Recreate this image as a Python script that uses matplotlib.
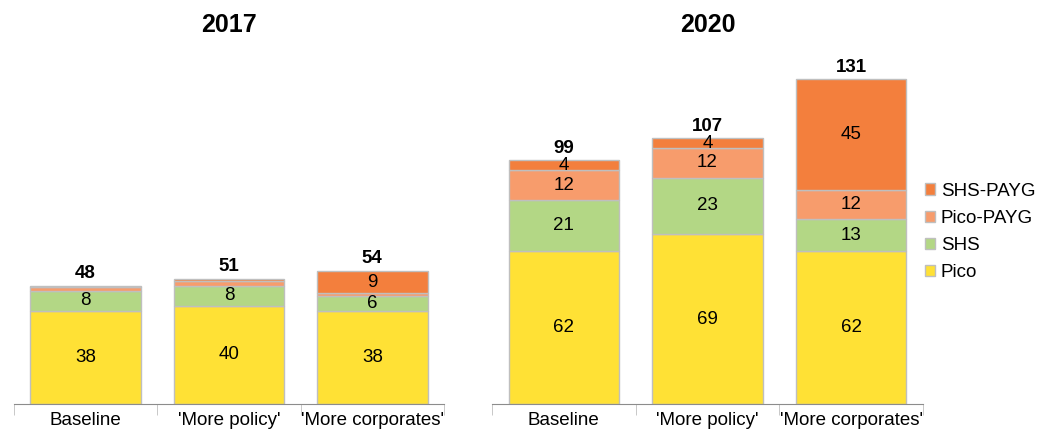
import numpy as np
import matplotlib.pyplot as plt

plt.rcParams['font.family'] = ['Liberation Sans', 'DejaVu Sans']

# DATA
scenarios = ["Baseline", "'More policy'", "'More corporates'"]
years = ["2017", "2020"]
series = ["Pico", "SHS", "Pico-PAYG", "SHS-PAYG"]
colors = ["#FFE135", "#B3D785", "#F79C6C", "#F37F3D"]

pico_2017 = [38, 40, 38]
shs_2017 = [8, 8, 6]
pico_payg_2017 = [1.5, 2, 1]
shs_payg_2017 = [0.5, 1, 9]
totals_2017 = [48, 51, 54]

pico_2020 = [62, 69, 62]
shs_2020 = [21, 23, 13]
pico_payg_2020 = [12, 12, 12]
shs_payg_2020 = [4, 4, 45]
totals_2020 = [99, 107, 131]

data = {
    "2017": [pico_2017, shs_2017, pico_payg_2017, shs_payg_2017],
    "2020": [pico_2020, shs_2020, pico_payg_2020, shs_payg_2020],
}
totals = {"2017": totals_2017, "2020": totals_2020}

fig = plt.figure(figsize=(10.43, 4.34), dpi=100)
W, H = 1043, 434
axes = [fig.add_axes([14 / W, 30 / H, 430 / W, 358 / H]),
        fig.add_axes([492 / W, 30 / H, 431 / W, 358 / H])]

x = np.arange(len(scenarios))
for ax, yr in zip(axes, years):
    bottom = np.zeros(len(scenarios))
    for vals, name, c in zip(data[yr], series, colors):
        vals = np.array(vals, dtype=float)
        ax.bar(x, vals, 0.77, bottom=bottom, color=c, edgecolor="#BFBFBF",
               linewidth=1, label=name)
        for xi, v, bt in zip(x, vals, bottom):
            if v >= 4:
                ax.text(xi, bt + v / 2, f"{v:g}", ha="center", va="center",
                        fontsize=13.5, color="black")
        bottom += vals
    for xi, t, top in zip(x, totals[yr], bottom):
        ax.text(xi, top + 1.5, str(t), ha="center", va="bottom",
                fontsize=13.5, fontweight="bold")
    ax.set_xlim(-0.5, len(scenarios) - 0.5)
    ax.set_ylim(0, 145.5)
    ax.set_yticks([])
    for s in ["left", "right", "top"]:
        ax.spines[s].set_visible(False)
    ax.spines["bottom"].set_color("#8C8C8C")
    ax.set_xticks(x)
    ax.set_xticklabels(scenarios, fontsize=13.5)
    ax.tick_params(axis="x", which="major", length=0, pad=6)
    ax.set_xticks(np.arange(-0.5, len(scenarios)), minor=True)
    ax.tick_params(axis="x", which="minor", length=8, color="#BFBFBF")
    ax.text(0.5, 1.0 + 21 / 358, yr, transform=ax.transAxes, ha="center",
            va="center", fontsize=18, fontweight="bold")

h, l = axes[1].get_legend_handles_labels()
fig.legend(h[::-1], l[::-1], loc="center left", bbox_to_anchor=(908 / W, 1 - 232 / H),
           frameon=False, fontsize=13.5, handlelength=0.55, handleheight=0.55,
           handletextpad=0.3, labelspacing=0.55)

plt.savefig("out.png", dpi=100)
